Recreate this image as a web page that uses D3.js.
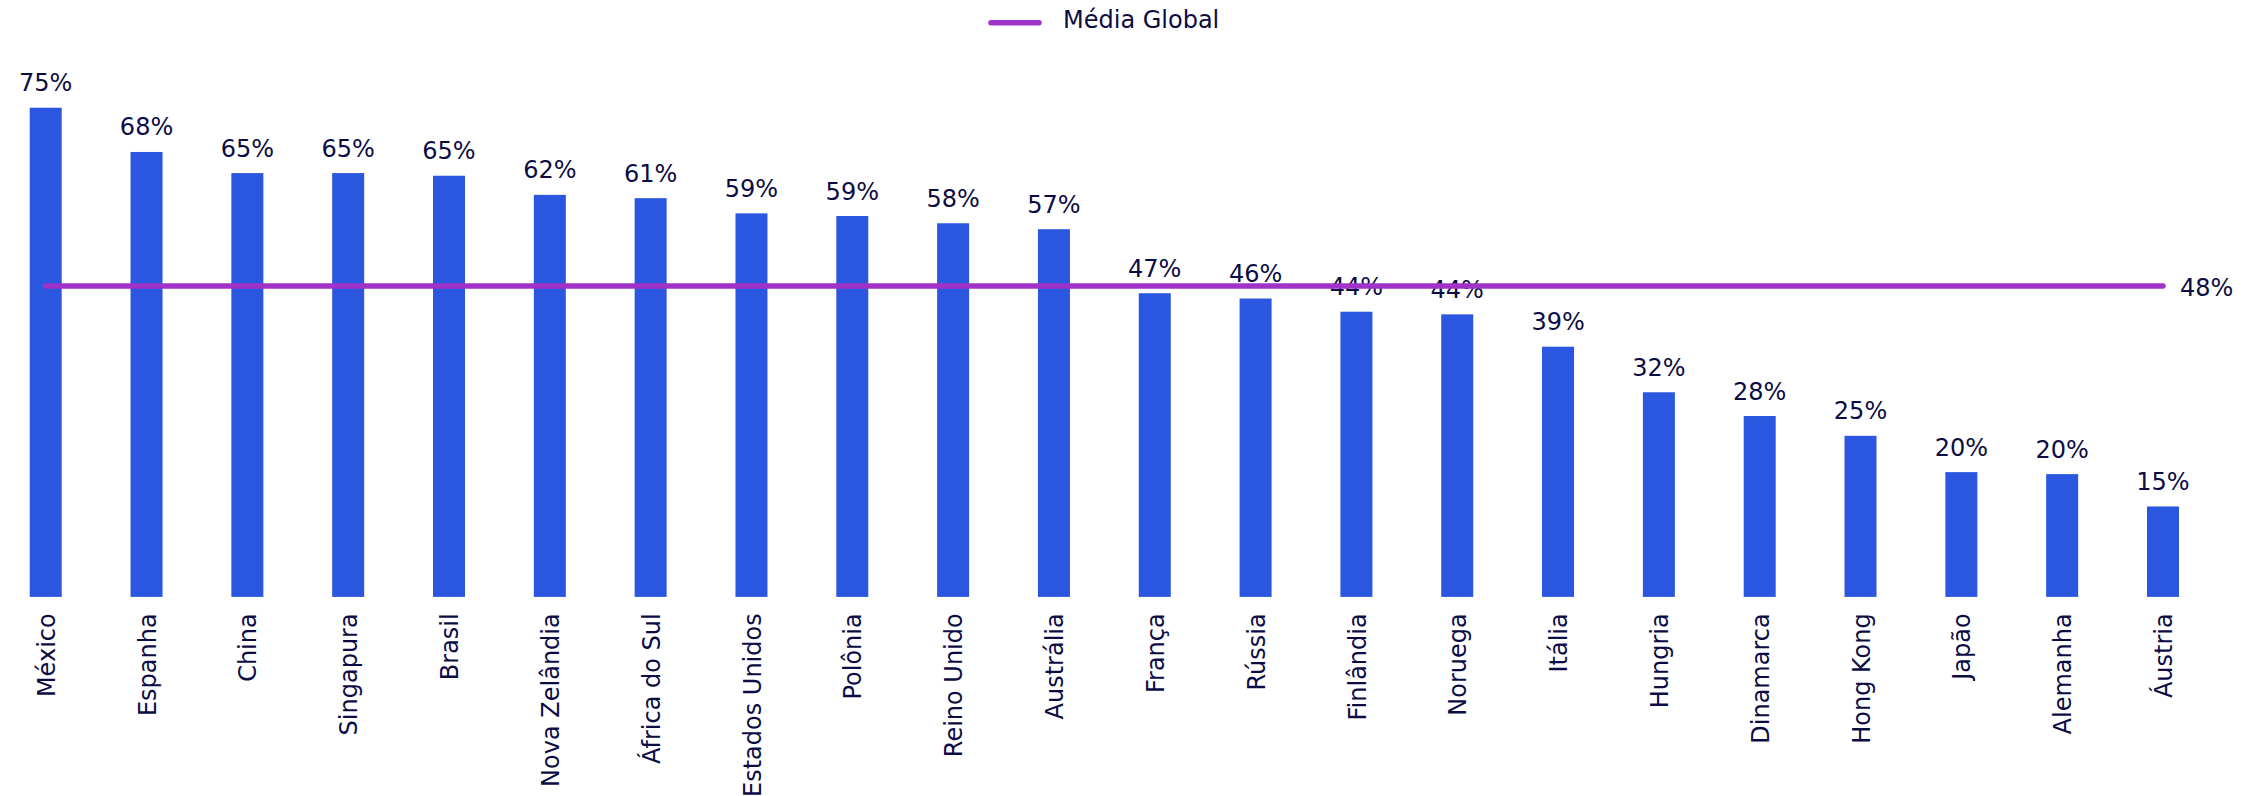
<!DOCTYPE html>
<html>
<head>
<meta charset="utf-8">
<script src="https://cdn.jsdelivr.net/npm/d3@7"></script>
<style>
    body { margin: 0; background: #fff; }
    text { font-family: "DejaVu Sans", Verdana, sans-serif; }
</style>
</head>
<body>
<div id="chart"></div>
<script>
// Countries in the order they appear
const countries = ['México', 'Espanha', 'China', 'Singapura', 'Brasil', 'Nova Zelândia',
    'África do Sul', 'Estados Unidos', 'Polônia', 'Reino Unido', 'Austrália', 'França',
    'Rússia', 'Finlândia', 'Noruega', 'Itália', 'Hungria', 'Dinamarca', 'Hong Kong',
    'Japão', 'Alemanha', 'Áustria'];

// Share in % (labels show them rounded)
const values = [75.1, 68.4, 65.2, 65.2, 64.8, 61.9, 61.4, 59.1, 58.7, 57.6, 56.7, 47.0,
    46.2, 44.2, 43.8, 38.9, 32.0, 28.4, 25.4, 19.9, 19.6, 14.7];

const globalAverage = 48.1;
const legendLabel = 'Média Global';

const width = 2257;
const height = 796;
const colors = {
    bar: '#2a56e0',
    line: '#a032c8',
    text: '#0c0c45'
};

const svg = d3.select('#chart')
    .append('svg')
    .attr('width', width)
    .attr('height', height);

// Band scale tuned so bars are 32px wide, ~101px apart
const x = d3.scaleBand()
    .domain(countries)
    .range([-4.7, 2213.4])
    .paddingInner(0.6826)
    .paddingOuter(0.3413);

// Value axis starts at 1% in the original, not at zero
const yMin = 1;
const y = d3.scaleLinear()
    .domain([yMin, 75])
    .range([596.9, 108.4]);

const fmt = v => Math.round(v) + '%';
const data = countries.map((c, i) => ({ country: c, value: values[i] }));

// Bars
svg.append('g')
    .selectAll('rect')
    .data(data)
    .join('rect')
    .attr('x', d => x(d.country))
    .attr('y', d => y(d.value))
    .attr('width', x.bandwidth())
    .attr('height', d => y(yMin) - y(d.value))
    .attr('fill', colors.bar);

// Value labels
svg.append('g')
    .selectAll('text')
    .data(data)
    .join('text')
    .attr('x', d => x(d.country) + x.bandwidth() / 2)
    .attr('y', d => y(d.value) - 16.5)
    .attr('text-anchor', 'middle')
    .attr('fill', colors.text)
    .style('font-size', '24px')
    .text(d => fmt(d.value));

// Category labels (rotated)
svg.append('g')
    .selectAll('text')
    .data(data)
    .join('text')
    .attr('transform', d => `translate(${x(d.country) + x.bandwidth() / 2},613.3) rotate(-90)`)
    .attr('dy', '0.38em')
    .attr('text-anchor', 'end')
    .attr('fill', colors.text)
    .style('font-size', '24px')
    .text(d => d.country);

// Global average line
const xFirst = x(countries[0]) + x.bandwidth() / 2;
const xLast = x(countries[countries.length - 1]) + x.bandwidth() / 2;

svg.append('line')
    .attr('x1', xFirst)
    .attr('x2', xLast)
    .attr('y1', y(globalAverage))
    .attr('y2', y(globalAverage))
    .attr('stroke', colors.line)
    .attr('stroke-width', 5.5)
    .attr('stroke-linecap', 'round');

svg.append('text')
    .attr('x', xLast + 17)
    .attr('y', y(globalAverage))
    .attr('dy', '0.4em')
    .attr('fill', colors.text)
    .style('font-size', '24px')
    .text(fmt(globalAverage));

// Legend
const legend = svg.append('g')
    .attr('transform', 'translate(988,22.7)');

legend.append('line')
    .attr('x1', 3)
    .attr('x2', 51)
    .attr('stroke', colors.line)
    .attr('stroke-width', 5.5)
    .attr('stroke-linecap', 'round');

legend.append('text')
    .attr('x', 75)
    .attr('y', 5.6)
    .attr('fill', colors.text)
    .style('font-size', '24px')
    .text(legendLabel);
</script>
</body>
</html>
